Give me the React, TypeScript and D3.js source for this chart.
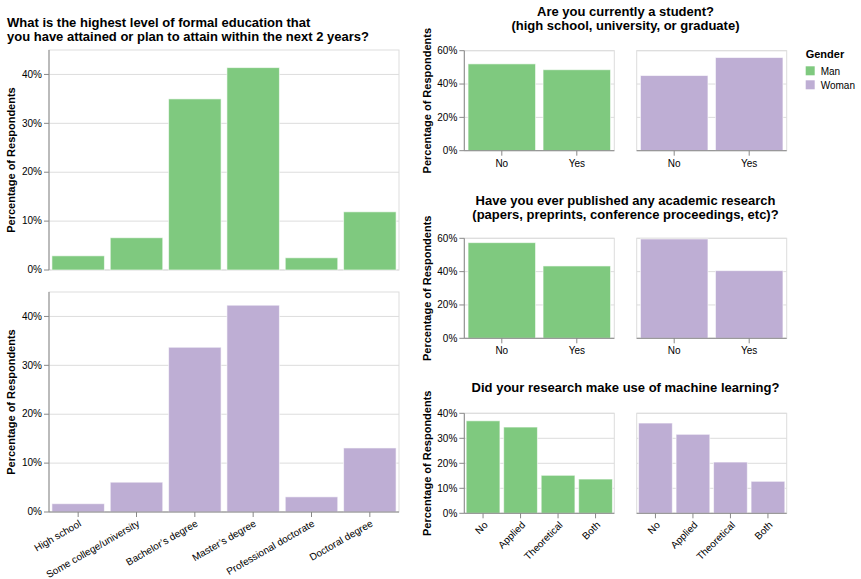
import React from 'react';
import * as d3 from 'd3';

// ---------- data ----------
const educationLevels = [
  'High school',
  'Some college/university',
  'Bachelor’s degree',
  'Master’s degree',
  'Professional doctorate',
  'Doctoral degree',
];
const educationMan = [2.9, 6.6, 35.0, 41.4, 2.5, 11.9];
const educationWoman = [1.7, 6.1, 33.7, 42.3, 3.1, 13.1];

const studentAnswers = ['No', 'Yes'];
const studentMan = [52.1, 48.6];
const studentWoman = [45.1, 55.9];

const publishedAnswers = ['No', 'Yes'];
const publishedMan = [57.4, 43.4];
const publishedWoman = [59.6, 40.6];

const mlAnswers = ['No', 'Applied', 'Theoretical', 'Both'];
const mlMan = [37.0, 34.5, 15.2, 13.7];
const mlWoman = [36.1, 31.6, 20.5, 12.8];

const genders = ['Man', 'Woman'];
const genderColors = ['#7fc97f', '#beaed4'];

const educationTicks = [0, 10, 20, 30, 40];
const yesNoTicks = [0, 20, 40, 60];
const mlTicks = [0, 10, 20, 30, 40];

const FONT = 'Liberation Sans, Arial, Helvetica, sans-serif';
const Y_TITLE = 'Percentage of Respondents';

type PanelProps = {
  x0: number;
  x1: number;
  y0: number;
  y1: number;
  cats: string[];
  values: number[];
  color: string;
  yMax: number;
  yTicks: number[];
  showY: boolean;
  showX: boolean;
  labelAngle: number;
};

function Panel(p: PanelProps) {
  const x = d3.scaleBand<string>().domain(p.cats).range([p.x0, p.x1]).paddingInner(0.1).paddingOuter(0.05);
  const y = d3.scaleLinear().domain([0, p.yMax]).range([p.y1, p.y0]);
  const fmt = (v: number) => `${v}%`;
  return (
    <g>
      {p.yTicks.map((t) => (
        <line key={'g' + t} x1={p.x0} x2={p.x1} y1={y(t)} y2={y(t)} stroke="#ddd" strokeWidth={1} />
      ))}
      <rect x={p.x0} y={p.y0} width={p.x1 - p.x0} height={p.y1 - p.y0} fill="none" stroke="#ddd" strokeWidth={1} />
      {p.cats.map((c, i) => (
        <rect
          key={'b' + c}
          x={x(c)!}
          y={y(p.values[i])}
          width={x.bandwidth()}
          height={y(0) - y(p.values[i])}
          fill={p.color}
          stroke="#fff"
          strokeOpacity={0.6}
          strokeWidth={1}
        />
      ))}
      {p.showY && (
        <g>
          <line x1={p.x0} x2={p.x0} y1={p.y0} y2={p.y1} stroke="#888" strokeWidth={1} />
          {p.yTicks.map((t) => (
            <g key={'y' + t}>
              <line x1={p.x0 - 5} x2={p.x0} y1={y(t)} y2={y(t)} stroke="#888" strokeWidth={1} />
              <text x={p.x0 - 7} y={y(t)} dy="0.32em" textAnchor="end" fontSize={10} fill="#000">
                {fmt(t)}
              </text>
            </g>
          ))}
        </g>
      )}
      {p.showX && (
        <g>
          <line x1={p.x0} x2={p.x1} y1={p.y1} y2={p.y1} stroke="#888" strokeWidth={1} />
          {p.cats.map((c) => {
            const cx = x(c)! + x.bandwidth() / 2;
            return (
              <g key={'x' + c}>
                <line x1={cx} x2={cx} y1={p.y1} y2={p.y1 + 5} stroke="#888" strokeWidth={1} />
                {p.labelAngle === 0 ? (
                  <text x={cx} y={p.y1 + 7} dy="0.88em" textAnchor="middle" fontSize={10} fill="#000">
                    {c}
                  </text>
                ) : (
                  <text
                    transform={`translate(${cx},${p.y1 + 7}) rotate(${p.labelAngle})`}
                    dy="0.75em"
                    textAnchor="end"
                    fontSize={10}
                    fill="#000"
                  >
                    {c}
                  </text>
                )}
              </g>
            );
          })}
        </g>
      )}
    </g>
  );
}

function YTitle({ x, y }: { x: number; y: number }) {
  return (
    <text transform={`translate(${x},${y}) rotate(-90)`} textAnchor="middle" fontSize={11} fontWeight="bold" fill="#000">
      {Y_TITLE}
    </text>
  );
}

function Title({ lines, x, y, anchor }: { lines: string[]; x: number; y: number; anchor: 'start' | 'middle' }) {
  return (
    <text x={x} y={y} textAnchor={anchor} fontSize={13} fontWeight="bold" fill="#000">
      {lines.map((l, i) => (
        <tspan key={i} x={x} dy={i === 0 ? 0 : 14}>
          {l}
        </tspan>
      ))}
    </text>
  );
}

export default function App() {
  const L = { x0: 49, x1: 399 };
  const R1 = { x0: 464.3, x1: 614.3 };
  const R2 = { x0: 636.7, x1: 786.7 };
  const rows = [
    { y0: 50.7, y1: 150.7 },
    { y0: 238.3, y1: 338.3 },
    { y0: 413.3, y1: 513.3 },
  ];
  const rightCenter = (R1.x0 + R2.x1) / 2;
  return (
    <svg
      width={861}
      height={579}
      style={{ position: 'absolute', left: 0, top: 0, fontFamily: FONT, background: '#fff' }}
      fontFamily={FONT}
    >
      <rect x={0} y={0} width={861} height={579} fill="#fff" />
      {/* Left column */}
      <Title
        lines={['What is the highest level of formal education that', 'you have attained or plan to attain within the next 2 years?']}
        x={7}
        y={27}
        anchor="start"
      />
      <Panel
        x0={L.x0}
        x1={L.x1}
        y0={50}
        y1={270}
        cats={educationLevels}
        values={educationMan}
        color={genderColors[0]}
        yMax={45}
        yTicks={educationTicks}
        showY
        showX={false}
        labelAngle={0}
      />
      <YTitle x={15} y={160} />
      <Panel
        x0={L.x0}
        x1={L.x1}
        y0={292}
        y1={512}
        cats={educationLevels}
        values={educationWoman}
        color={genderColors[1]}
        yMax={45}
        yTicks={educationTicks}
        showY
        showX
        labelAngle={-30}
      />
      <YTitle x={15} y={402} />

      {/* Right column: student */}
      <Title lines={['Are you currently a student?', '(high school, university, or graduate)']} x={rightCenter} y={16} anchor="middle" />
      <Panel {...R1} {...rows[0]} cats={studentAnswers} values={studentMan} color={genderColors[0]} yMax={60} yTicks={yesNoTicks} showY showX labelAngle={0} />
      <Panel {...R2} {...rows[0]} cats={studentAnswers} values={studentWoman} color={genderColors[1]} yMax={60} yTicks={yesNoTicks} showY={false} showX labelAngle={0} />
      <YTitle x={430.5} y={(rows[0].y0 + rows[0].y1) / 2} />

      {/* Right column: published */}
      <Title
        lines={['Have you ever published any academic research', '(papers, preprints, conference proceedings, etc)?']}
        x={rightCenter}
        y={205}
        anchor="middle"
      />
      <Panel {...R1} {...rows[1]} cats={publishedAnswers} values={publishedMan} color={genderColors[0]} yMax={60} yTicks={yesNoTicks} showY showX labelAngle={0} />
      <Panel {...R2} {...rows[1]} cats={publishedAnswers} values={publishedWoman} color={genderColors[1]} yMax={60} yTicks={yesNoTicks} showY={false} showX labelAngle={0} />
      <YTitle x={430.5} y={(rows[1].y0 + rows[1].y1) / 2} />

      {/* Right column: ML */}
      <Title lines={['Did your research make use of machine learning?']} x={rightCenter} y={391.5} anchor="middle" />
      <Panel {...R1} {...rows[2]} cats={mlAnswers} values={mlMan} color={genderColors[0]} yMax={40} yTicks={mlTicks} showY showX labelAngle={-45} />
      <Panel {...R2} {...rows[2]} cats={mlAnswers} values={mlWoman} color={genderColors[1]} yMax={40} yTicks={mlTicks} showY={false} showX labelAngle={-45} />
      <YTitle x={430.5} y={(rows[2].y0 + rows[2].y1) / 2} />

      {/* Legend */}
      <g>
        <text x={805.7} y={58.3} fontSize={11} fontWeight="bold" fill="#000">
          Gender
        </text>
        {genders.map((g, i) => (
          <g key={g}>
            <rect x={805.7} y={66.3 + i * 14} width={9} height={9} fill={genderColors[i]} />
            <text x={820.7} y={74.5 + i * 14} fontSize={10} fill="#000">
              {g}
            </text>
          </g>
        ))}
      </g>
    </svg>
  );
}
